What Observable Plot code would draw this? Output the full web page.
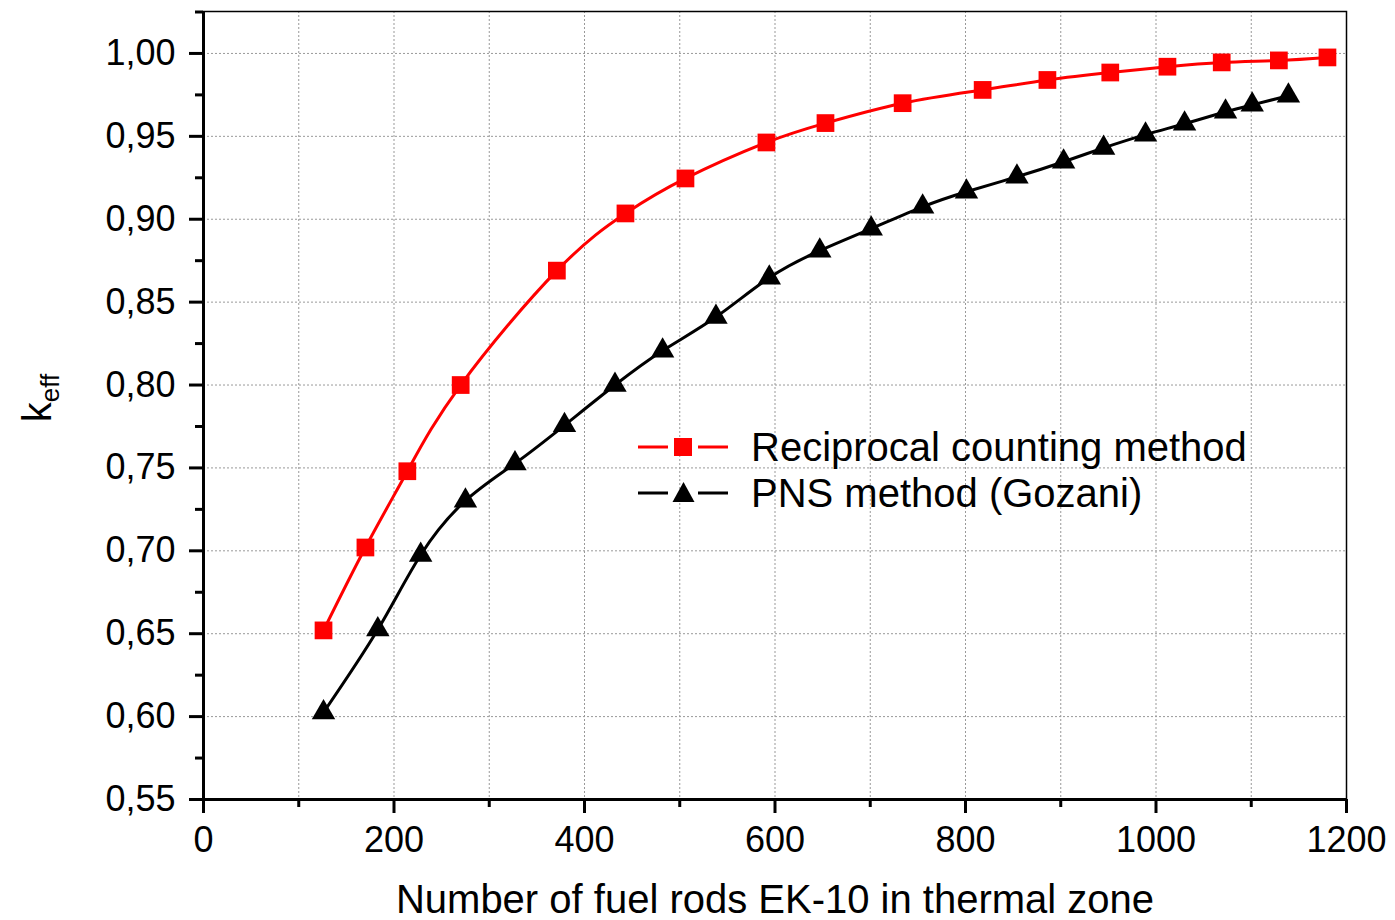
<!DOCTYPE html>
<html><head><meta charset="utf-8">
<script src="https://cdn.jsdelivr.net/npm/d3@7"></script>
<script src="https://cdn.jsdelivr.net/npm/@observablehq/plot@0.6"></script>
<style>
body{margin:0;background:#fff;font-family:"Liberation Sans",Arial,sans-serif;}
#wrap{position:relative;width:1395px;height:920px;overflow:hidden;}
#wrap svg{display:block;}
.leg{position:absolute;left:638px;font-size:40px;color:#000;white-space:nowrap;display:flex;align-items:center;height:46px;}
.leg svg{margin-right:23px;}
#ylab{position:absolute;left:40px;top:398px;transform:translate(-50%,-50%) rotate(-90deg);font-size:40px;white-space:nowrap;}
#ylab sub{font-size:26px;vertical-align:-8px;}
</style></head><body><div id="wrap"></div>
<script>
// Reciprocal counting method
const recipX = [126,170,214,270,371,443,506,591,653,734,818,886,952,1012,1069,1129,1180];
const recipK = [0.652,0.702,0.748,0.800,0.869,0.9035,0.9246,0.9463,0.958,0.970,0.978,0.984,0.9885,0.992,0.9946,0.9958,0.9976];
// PNS method (Gozani)
const pnsX = [126,183,228,275,327,379,432,482,538,594,647,701,755,801,854,903,945,989,1030,1073,1101,1139];
const pnsK = [0.6025,0.6525,0.6975,0.7302,0.7527,0.7757,0.8,0.8207,0.841,0.8647,0.881,0.8943,0.9075,0.9166,0.9256,0.9347,0.943,0.951,0.9576,0.9648,0.969,0.9745];

const xTicks = [0,200,400,600,800,1000,1200];
const xMinorTicks = [100,300,500,700,900,1100];
const xGrid = [100,200,300,400,500,600,700,800,900,1000,1100];
const yTicks = [0.55,0.60,0.65,0.70,0.75,0.80,0.85,0.90,0.95,1.00];
const yMinorTicks = [0.575,0.625,0.675,0.725,0.775,0.825,0.875,0.925,0.975,1.025];
const yGrid = [0.60,0.65,0.70,0.75,0.80,0.85,0.90,0.95,1.00];
const yTop = 1.0253;
const xTitle = "Number of fuel rods EK-10 in thermal zone";

const fmtY = d => d3.format(".2f")(d).replace(".", ",");
const recip = recipX.map((x, i) => ({x, k: recipK[i]}));
const pns = pnsX.map((x, i) => ({x, k: pnsK[i]}));

const grid = {stroke: "#999", strokeOpacity: 1, strokeDasharray: "2,2", strokeWidth: 1};

const chart = Plot.plot({
  width: 1395, height: 920,
  marginLeft: 203, marginRight: 49, marginTop: 11, marginBottom: 121,
  x: {domain: [xTicks[0], xTicks[xTicks.length - 1]]},
  y: {domain: [yTicks[0], yTop]},
  style: {fontFamily: "Liberation Sans, Arial, sans-serif", color: "#000", background: "#fff"},
  marks: [
    Plot.gridX(xGrid, grid),
    Plot.gridY(yGrid, grid),
    Plot.frame({stroke: "#000", strokeWidth: 1.5}),
    Plot.ruleX([xTicks[0]], {stroke: "#000", strokeWidth: 3}),
    Plot.ruleY([yTicks[0]], {stroke: "#000", strokeWidth: 3}),
    Plot.axisX(xTicks, {tickSize: 14, tickPadding: 13, strokeWidth: 3, fontSize: 36, tickFormat: d => String(d), label: null}),
    Plot.axisX(xMinorTicks, {tickSize: 8, strokeWidth: 3, tickFormat: () => "", label: null}),
    Plot.axisY(yTicks, {tickSize: 14, tickPadding: 14, strokeWidth: 3, fontSize: 36, tickFormat: fmtY, label: null}),
    Plot.axisY(yMinorTicks, {tickSize: 8, strokeWidth: 3, tickFormat: () => "", label: null}),
    Plot.text([xTitle], {frameAnchor: "bottom", dy: 113, fontSize: 40, fill: "#000"}),
    Plot.line(recip, {x: "x", y: "k", stroke: "#ff0000", strokeWidth: 3, curve: "natural"}),
    Plot.line(pns, {x: "x", y: "k", stroke: "#000", strokeWidth: 3, curve: "natural"}),
    Plot.dot(recip, {x: "x", y: "k", symbol: "square", fill: "#ff0000", r: 10}),
    Plot.dot(pns, {x: "x", y: "k", symbol: "triangle", fill: "#000", r: 8.7})
  ]
});
const wrap = document.getElementById("wrap");
wrap.appendChild(chart);

// Legend
const legendItems = [
  {label: "Reciprocal counting method", color: "#ff0000", shape: "square", top: 424},
  {label: "PNS method (Gozani)", color: "#000", shape: "triangle", top: 470}
];
for (const it of legendItems) {
  const div = document.createElement("div");
  div.className = "leg";
  div.style.top = it.top + "px";
  const sym = it.shape === "square"
    ? `<rect x="36" y="14" width="18" height="18" fill="${it.color}"/>`
    : `<path d="M45.5,12 L56.5,32 L34.5,32 Z" fill="${it.color}"/>`;
  div.innerHTML = `<svg width="90" height="46"><line x1="0" x2="90" y1="23" y2="23" stroke="${it.color}" stroke-width="3"/><line x1="30" x2="60" y1="23" y2="23" stroke="#fff" stroke-width="5"/>${sym}</svg><span>${it.label}</span>`;
  wrap.appendChild(div);
}
// Y label
const yl = document.createElement("div");
yl.id = "ylab";
yl.innerHTML = "k<sub>eff</sub>";
wrap.appendChild(yl);
</script>
</body></html>
